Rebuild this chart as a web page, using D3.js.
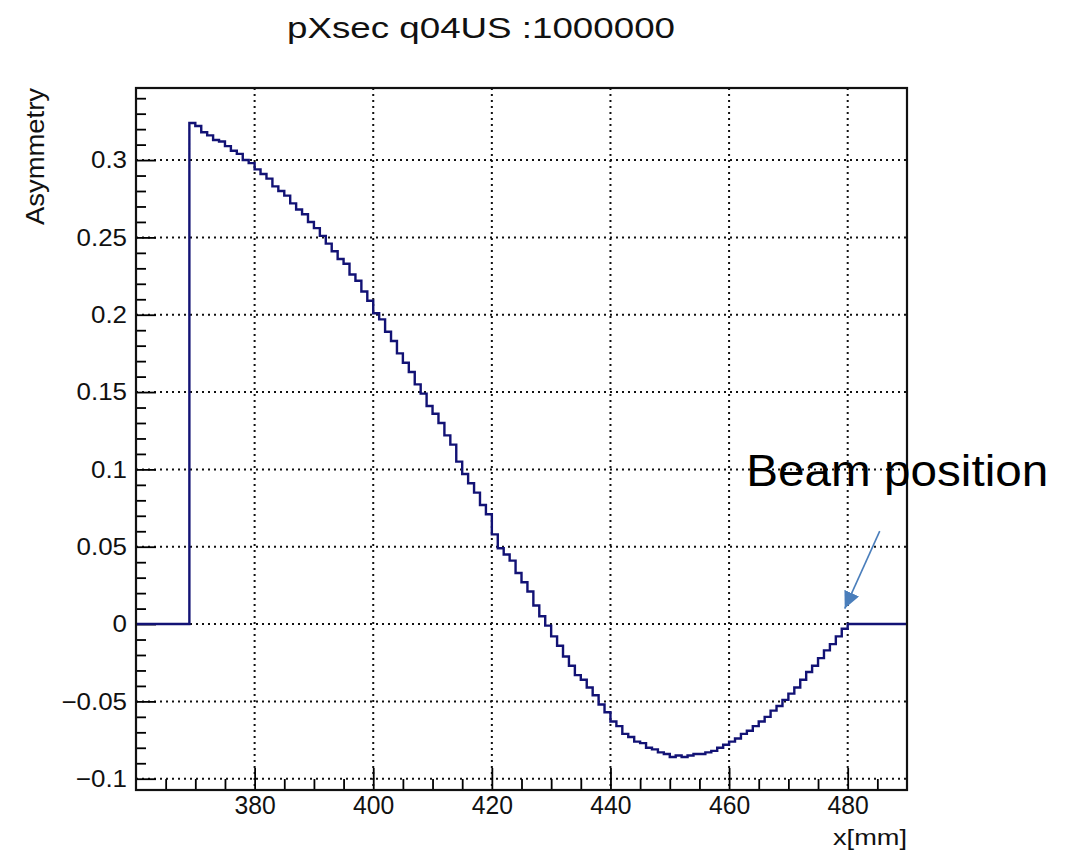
<!DOCTYPE html>
<html>
<head>
<meta charset="utf-8">
<script src="https://cdn.jsdelivr.net/npm/d3@7"></script>
<style>
  body { margin: 0; background: #fff; }
  text { font-family: "Liberation Sans", Arial, Helvetica, sans-serif; }
</style>
</head>
<body>
<div id="chart"></div>
<script>
// tick values and labels
const xMajor = [380, 400, 420, 440, 460, 480];
const yMajor = [-0.1, -0.05, 0, 0.05, 0.1, 0.15, 0.2, 0.25, 0.3];
const yLabels = ["\u22120.1", "\u22120.05", "0", "0.05", "0.1", "0.15", "0.2", "0.25", "0.3"];

// histogram: 1 mm bins, first filled bin starts at 369 mm, empty after 480 mm
const firstBin = 369;
const asym = [
  0.324, 0.322, 0.318, 0.316, 0.313, 0.312, 0.309, 0.306, 0.304, 0.300,
  0.298, 0.294, 0.291, 0.288, 0.283, 0.280, 0.277, 0.272, 0.268, 0.265,
  0.260, 0.256, 0.251, 0.246, 0.241, 0.236, 0.233, 0.226, 0.222, 0.215,
  0.209, 0.201, 0.197, 0.189, 0.183, 0.175, 0.169, 0.163, 0.155, 0.149,
  0.141, 0.136, 0.130, 0.122, 0.116, 0.105, 0.097, 0.091, 0.085, 0.077,
  0.071, 0.058, 0.049, 0.045, 0.041, 0.033, 0.027, 0.021, 0.012, 0.005,
  -0.001, -0.008, -0.014, -0.021, -0.027, -0.033, -0.036, -0.041, -0.046, -0.052,
  -0.057, -0.063, -0.066, -0.071, -0.073, -0.076, -0.077, -0.080, -0.081, -0.083,
  -0.084, -0.086, -0.085, -0.086, -0.085, -0.084, -0.084, -0.083, -0.082, -0.080,
  -0.078, -0.076, -0.074, -0.071, -0.069, -0.066, -0.063, -0.060, -0.056, -0.053,
  -0.049, -0.045, -0.041, -0.036, -0.031, -0.027, -0.022, -0.017, -0.013, -0.008,
  -0.003
];

// annotation, in data units
const beamLabel = { text: "Beam position", x: 462.9, y: 0.0895 };
const beamArrow = { from: [485.4, 0.0601], to: [479.5, 0.0100] };

const width = 1071, height = 852;
const frame = { left: 136, right: 907, top: 88, bottom: 790 };

const svg = d3.select("#chart")
  .append("svg")
  .attr("width", width)
  .attr("height", height);

const x = d3.scaleLinear().domain([360, 490]).range([frame.left, frame.right]);
const y = d3.scaleLinear().domain([-0.1073, 0.3466]).range([frame.bottom, frame.top]);

// stretch text horizontally like the original picture
function stretch(sel, k) {
  sel.each(function () {
    const w = this.getComputedTextLength();
    d3.select(this).attr("textLength", w * k).attr("lengthAdjust", "spacingAndGlyphs");
  });
}

// dotted grid
const grid = svg.append("g")
  .attr("stroke", "#111")
  .attr("stroke-width", 2)
  .attr("stroke-dasharray", "2,4");
grid.selectAll("line.gx")
  .data(xMajor)
  .join("line")
  .attr("x1", d => x(d)).attr("x2", d => x(d))
  .attr("y1", frame.top).attr("y2", frame.bottom);
grid.selectAll("line.gy")
  .data(yMajor)
  .join("line")
  .attr("class", "gy")
  .attr("x1", frame.left).attr("x2", frame.right)
  .attr("y1", d => y(d)).attr("y2", d => y(d));

// minor ticks
const xMinor = d3.range(365, 490, 5).filter(v => v % 20 !== 0);
const yMinor = d3.range(-10, 35, 1).map(v => v / 100).filter(v => Math.round(v * 100) % 5 !== 0);

svg.append("g")
  .attr("transform", `translate(0,${frame.bottom})`)
  .call(d3.axisBottom(x).tickValues(xMinor).tickSize(-11).tickFormat(""))
  .call(g => g.select(".domain").remove())
  .selectAll("line").attr("stroke", "#000").attr("stroke-width", 1.8);

svg.append("g")
  .attr("transform", `translate(${frame.left},0)`)
  .call(d3.axisLeft(y).tickValues(yMinor).tickSize(-10).tickFormat(""))
  .call(g => g.select(".domain").remove())
  .selectAll("line").attr("stroke", "#000").attr("stroke-width", 1.8);

// major ticks and labels
const xAxis = svg.append("g")
  .attr("transform", `translate(0,${frame.bottom})`)
  .call(d3.axisBottom(x).tickValues(xMajor).tickSize(-22).tickPadding(6))
  .call(g => g.select(".domain").remove());
xAxis.selectAll("line").attr("stroke", "#000").attr("stroke-width", 1.8);
xAxis.selectAll("text")
  .attr("fill", "#111")
  .style("font-size", "26px")
  .call(stretch, 0.95);

const yAxis = svg.append("g")
  .attr("transform", `translate(${frame.left},0)`)
  .call(d3.axisLeft(y).tickValues(yMajor).tickSize(-20).tickPadding(9)
    .tickFormat((d, i) => yLabels[i]))
  .call(g => g.select(".domain").remove());
yAxis.selectAll("line").attr("stroke", "#000").attr("stroke-width", 1.8);
yAxis.selectAll("text")
  .attr("fill", "#111")
  .style("font-size", "24px")
  .call(stretch, 1.08);

// histogram as a step line
const pts = [[360, 0]]
  .concat(asym.map((v, i) => [firstBin + i, v]))
  .concat([[firstBin + asym.length, 0], [490, 0]]);

svg.append("path")
  .datum(pts)
  .attr("fill", "none")
  .attr("stroke", "#121275")
  .attr("stroke-width", 2.4)
  .attr("d", d3.line().x(d => x(d[0])).y(d => y(d[1])).curve(d3.curveStepAfter));

// frame
svg.append("rect")
  .attr("x", frame.left).attr("y", frame.top)
  .attr("width", frame.right - frame.left)
  .attr("height", frame.bottom - frame.top)
  .attr("fill", "none")
  .attr("stroke", "#111")
  .attr("stroke-width", 2.2);

// titles
svg.append("text")
  .attr("x", 481).attr("y", 38)
  .attr("text-anchor", "middle")
  .style("font-size", "29px")
  .attr("fill", "#111")
  .attr("textLength", 388).attr("lengthAdjust", "spacingAndGlyphs")
  .text("pXsec q04US :1000000");

svg.append("text")
  .attr("x", frame.right).attr("y", 845)
  .attr("text-anchor", "end")
  .style("font-size", "22px")
  .attr("fill", "#111")
  .attr("textLength", 74).attr("lengthAdjust", "spacingAndGlyphs")
  .text("x[mm]");

svg.append("text")
  .attr("transform", `translate(44,${frame.top}) rotate(-90)`)
  .attr("text-anchor", "end")
  .style("font-size", "26px")
  .attr("fill", "#111")
  .attr("textLength", 137).attr("lengthAdjust", "spacingAndGlyphs")
  .text("Asymmetry");

// beam position annotation
svg.append("defs").append("marker")
  .attr("id", "head")
  .attr("markerUnits", "userSpaceOnUse")
  .attr("markerWidth", 18).attr("markerHeight", 16)
  .attr("refX", 17).attr("refY", 8)
  .attr("orient", "auto")
  .append("path")
  .attr("d", "M0,0 L17,8 L0,16 Z")
  .attr("fill", "#4a7ebb");

svg.append("line")
  .attr("x1", x(beamArrow.from[0])).attr("y1", y(beamArrow.from[1]))
  .attr("x2", x(beamArrow.to[0])).attr("y2", y(beamArrow.to[1]))
  .attr("stroke", "#4a7ebb")
  .attr("stroke-width", 1.6)
  .attr("marker-end", "url(#head)");

svg.append("text")
  .attr("x", x(beamLabel.x)).attr("y", y(beamLabel.y))
  .style("font-size", "45px")
  .attr("fill", "#000")
  .attr("textLength", 302).attr("lengthAdjust", "spacingAndGlyphs")
  .text(beamLabel.text);
</script>
</body>
</html>
